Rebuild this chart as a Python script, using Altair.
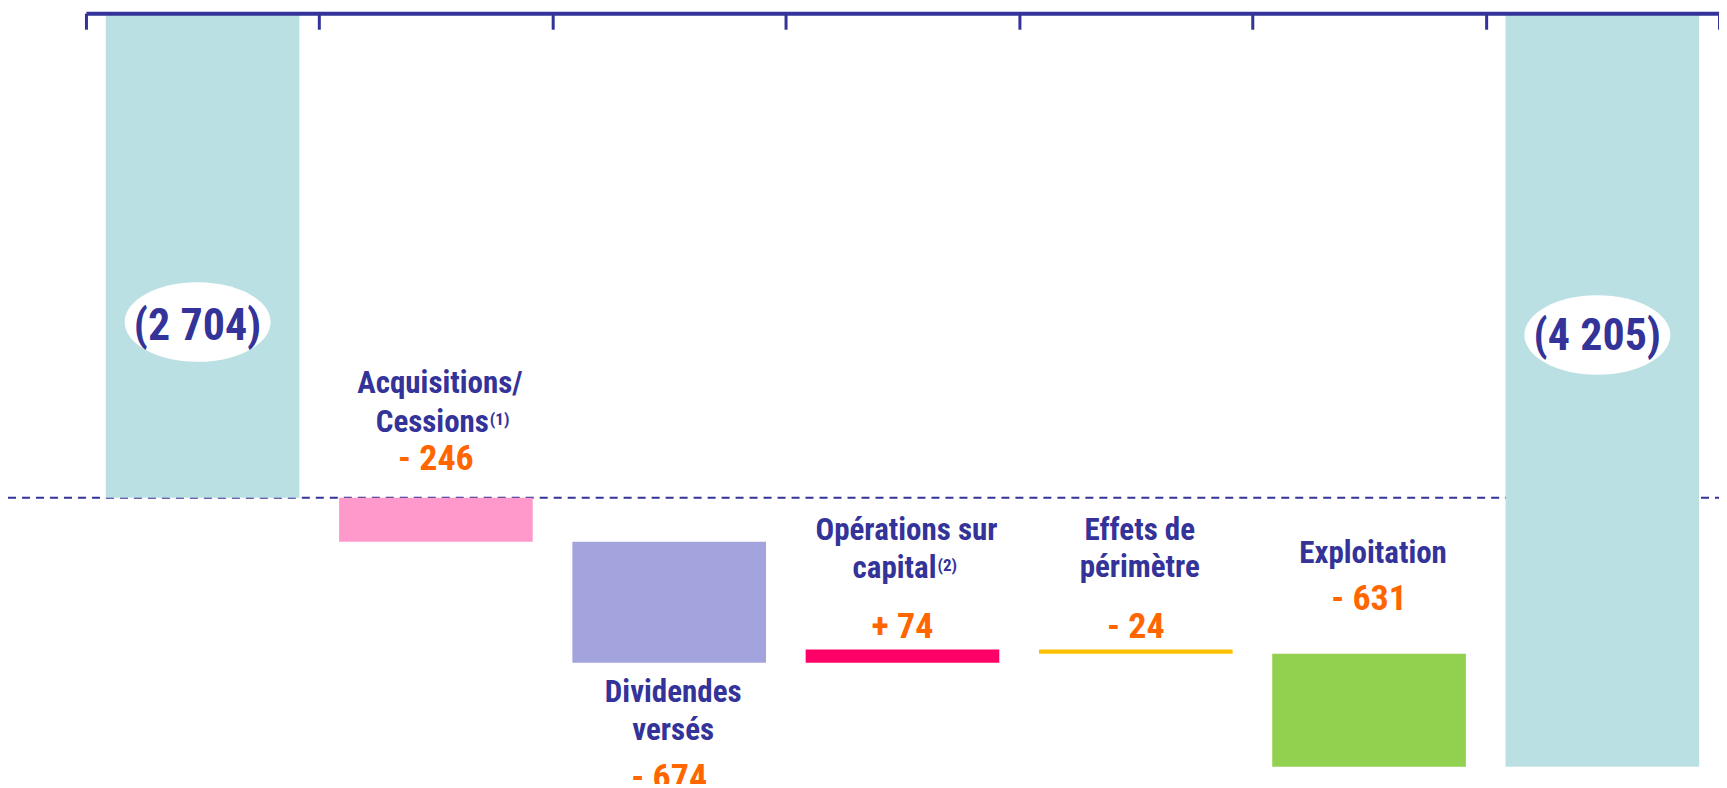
import altair as alt
import pandas as pd

# ---------------- data ----------------
categories = ["Ouverture", "Acquisitions/Cessions", "Dividendes versés",
              "Opérations sur capital", "Effets de périmètre", "Exploitation", "Clôture"]
amounts = [-2704, -246, -674, 74, -24, -631, -4205]
kinds = ["total", "step", "step", "step", "step", "step", "total"]
bar_colors = ["#BBE0E3", "#FF99CC", "#A3A3DE", "#FF0066", "#FFC000", "#92D050", "#BBE0E3"]
value_labels = ["(2 704)", "- 246", "- 674", "+ 74", "- 24", "- 631", "(4 205)"]
name_line1 = ["", "Acquisitions/", "Dividendes", "Opérations sur", "Effets de", "Exploitation", ""]
name_line2 = ["", "Cessions", "versés", "capital", "périmètre", "", ""]
footnotes = ["", "(1)", "", "(2)", "", "", ""]

# ---------------- layout (page pixels) ----------------
W = 1634
H = 771
Y_MIN = -4300
PAD_LEFT = 78
PAD_TOP = 5
TOP = 8 + PAD_TOP
K = H / -Y_MIN
line1_px = [None, 393, 702, 540, 540, 563, None]
line2_px = [None, 432, 740, 578, 577, None, None]
number_px = [340, 470, 789, 638, 638, 610, 350]
ellipse_px = [322, None, None, None, None, None, 335]
sup_dx = [0, 53, 0, 34, 0, 0, 0]

NAVY = "#333399"
ORANGE = "#FF6600"
FONT = "Liberation Sans Narrow, Arial Narrow, Roboto Condensed, DejaVu Sans Condensed, sans-serif"


def val(page_y):
    return -(page_y - TOP) / K


# ---------------- waterfall ----------------
starts, ends = [], []
running = 0
for a, k in zip(amounts, kinds):
    if k == "total":
        starts.append(0)
        ends.append(a)
        running = a
    else:
        starts.append(running)
        running += a
        ends.append(running)

bars = pd.DataFrame({"cat": categories, "start": starts, "end": ends, "color": bar_colors})

xscale = alt.Scale(domain=categories, paddingInner=0, paddingOuter=0)
yscale = alt.Scale(domain=[Y_MIN, 0], nice=False)

x_axis = alt.Axis(orient="bottom", offset=-H, labels=False, title=None, grid=False,
                  domainColor=NAVY, domainWidth=4, tickColor=NAVY, tickWidth=3,
                  tickSize=16, tickBand="extent", zindex=2)

rule = alt.Chart(pd.DataFrame({"y": [amounts[0]]})).mark_rule(
    color=NAVY, strokeWidth=2, strokeDash=[8, 6]
).encode(y=alt.Y("y:Q", scale=yscale, axis=None),
         x=alt.value(-PAD_LEFT), x2=alt.value(W + 20))

bar_layer = alt.Chart(bars).mark_bar(width=alt.RelativeBandSize(0.83)).encode(
    x=alt.X("cat:N", scale=xscale, axis=x_axis),
    y=alt.Y("start:Q", scale=yscale, axis=None),
    y2="end:Q",
    color=alt.Color("color:N", scale=None),
)

# ellipses + totals
ell_rows = [{"cat": c, "y": val(p)} for c, p in zip(categories, ellipse_px) if p is not None]
ellipse_path = "M -1 0 A 1 0.545 0 1 1 1 0 A 1 0.545 0 1 1 -1 0 Z"
ellipses = alt.Chart(pd.DataFrame(ell_rows)).mark_point(
    shape=ellipse_path, size=146 * 146, filled=True, color="white", opacity=1, xOffset=-5
).encode(x=alt.X("cat:N", scale=xscale), y=alt.Y("y:Q", scale=yscale))

tot_rows = [{"cat": c, "y": val(p), "t": t}
            for c, p, t, k in zip(categories, number_px, value_labels, kinds) if k == "total"]
totals = alt.Chart(pd.DataFrame(tot_rows)).mark_text(
    font=FONT, fontSize=44, fontWeight="bold", color=NAVY, align="center",
    baseline="alphabetic", dx=-5
).encode(x=alt.X("cat:N", scale=xscale), y=alt.Y("y:Q", scale=yscale), text="t:N")

num_rows = [{"cat": c, "y": val(p), "t": t}
            for c, p, t, k in zip(categories, number_px, value_labels, kinds) if k == "step"]
numbers = alt.Chart(pd.DataFrame(num_rows)).mark_text(
    font=FONT, fontSize=36, fontWeight="bold", color=ORANGE, align="center",
    baseline="alphabetic"
).encode(x=alt.X("cat:N", scale=xscale), y=alt.Y("y:Q", scale=yscale), text="t:N")

name_rows = []
for i, c in enumerate(categories):
    if name_line1[i]:
        name_rows.append({"cat": c, "y": val(line1_px[i]), "t": name_line1[i]})
    if name_line2[i] and not footnotes[i]:
        name_rows.append({"cat": c, "y": val(line2_px[i]), "t": name_line2[i]})
names = alt.Chart(pd.DataFrame(name_rows)).mark_text(
    font=FONT, fontSize=31, fontWeight="bold", color=NAVY, align="center",
    baseline="alphabetic", dx=4
).encode(x=alt.X("cat:N", scale=xscale), y=alt.Y("y:Q", scale=yscale), text="t:N")

layers = [rule, bar_layer, ellipses, totals, numbers, names]

for i, c in enumerate(categories):
    if footnotes[i]:
        main = alt.Chart(pd.DataFrame([{"cat": c, "y": val(line2_px[i]), "t": name_line2[i]}])).mark_text(
            font=FONT, fontSize=31, fontWeight="bold", color=NAVY, align="right",
            baseline="alphabetic", dx=sup_dx[i]
        ).encode(x=alt.X("cat:N", scale=xscale), y=alt.Y("y:Q", scale=yscale), text="t:N")
        sup = alt.Chart(pd.DataFrame([{"cat": c, "y": val(line2_px[i] - 7), "t": footnotes[i]}])).mark_text(
            font=FONT, fontSize=17, fontWeight="bold", color=NAVY, align="left",
            baseline="alphabetic", dx=sup_dx[i] + 1
        ).encode(x=alt.X("cat:N", scale=xscale), y=alt.Y("y:Q", scale=yscale), text="t:N")
        layers += [main, sup]

chart = alt.layer(*layers).properties(
    width=W, height=H,
    autosize=alt.AutoSizeParams(type="none"),
    padding={"left": PAD_LEFT, "top": PAD_TOP, "right": 0, "bottom": 0},
).configure_view(stroke=None)

chart.save("out.html", embed_options={"renderer": "svg", "actions": False})
